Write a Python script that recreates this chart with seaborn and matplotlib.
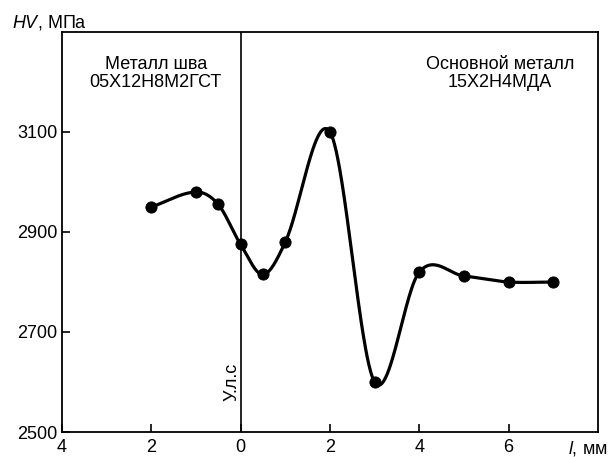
import numpy as np
import pandas as pd
import matplotlib
matplotlib.use("Agg")
import matplotlib.pyplot as plt
import seaborn as sns

# distance from fusion line, mm (weld metal side negative)
dist_mm = [-2.0, -1.0, -0.5, 0.0, 0.5, 1.0, 2.0, 3.0, 4.0, 5.0, 6.0, 7.0]
hv_mpa = [2950, 2980, 2955, 2875, 2815, 2880, 3100, 2600, 2820, 2812, 2800, 2800]
xticks = [-4, -2, 0, 2, 4, 6]
xtick_labels = ["4", "2", "0", "2", "4", "6"]
yticks = [2500, 2700, 2900, 3100]


def smooth_curve(x, y, n=80):
    # cubic Hermite through the points, Catmull-Rom style tangents
    x = np.asarray(x, float)
    y = np.asarray(y, float)
    m = np.gradient(y, x, edge_order=1)
    for i in range(1, len(x) - 1):
        m[i] = (y[i + 1] - y[i - 1]) / (x[i + 1] - x[i - 1])
    xs_all, ys_all = [], []
    for i in range(len(x) - 1):
        h = x[i + 1] - x[i]
        t = np.linspace(0, 1, n)
        h00 = 2 * t**3 - 3 * t**2 + 1
        h10 = t**3 - 2 * t**2 + t
        h01 = -2 * t**3 + 3 * t**2
        h11 = t**3 - t**2
        xs_all.append(x[i] + t * h)
        ys_all.append(h00 * y[i] + h10 * h * m[i] + h01 * y[i + 1] + h11 * h * m[i + 1])
    return np.concatenate(xs_all), np.concatenate(ys_all)


sns.set_style("ticks")
plt.rcParams["font.family"] = ["Liberation Sans", "DejaVu Sans"]
plt.rcParams["mathtext.fontset"] = "custom"
plt.rcParams["mathtext.it"] = "Liberation Sans:italic"
plt.rcParams["mathtext.rm"] = "Liberation Sans"
plt.rcParams["text.color"] = "black"

fig = plt.figure(figsize=(6.1, 4.57), dpi=100)
ax = fig.add_axes([0.1016, 0.0547, 0.8787, 0.8753])

cx, cy = smooth_curve(dist_mm, hv_mpa)
curve = pd.DataFrame({"x": cx, "y": cy})
pts = pd.DataFrame({"x": dist_mm, "y": hv_mpa})

sns.lineplot(data=curve, x="x", y="y", ax=ax, color="black", linewidth=2.3,
             sort=False, estimator=None)
sns.scatterplot(data=pts, x="x", y="y", ax=ax, color="black", s=65,
                edgecolor="black", zorder=3)

ax.axvline(0, color="black", linewidth=1.2)

ax.set_xlim(-4, 8)
ax.set_ylim(2500, 3300)
ax.set_xticks(xticks)
ax.set_xticklabels(xtick_labels)
ax.set_yticks(yticks)
ax.tick_params(direction="in", length=6, width=1.2, labelsize=13,
               colors="black", labelcolor="black")
ax.tick_params(axis="x", pad=5)
ax.set_xlabel("")
ax.set_ylabel("")
for s in ax.spines.values():
    s.set_linewidth(1.3)
    s.set_color("black")

ax.text(-1.9, 3217, "Металл шва\n05Х12Н8М2ГСТ", ha="center", va="center",
        fontsize=13, linespacing=1.1)
ax.text(5.8, 3217, "Основной металл\n15Х2Н4МДА", ha="center", va="center",
        fontsize=13, linespacing=1.1)
ax.text(-0.2, 2562, "У.л.с", rotation=90, ha="center", va="bottom", fontsize=13)

fig.text(12 / 610, 1 - 22 / 457, "$HV$, МПа", ha="left", va="center", fontsize=13)
fig.text(1 - 2 / 610, 1 - 448 / 457, "$l$, мм", ha="right", va="center", fontsize=13)

fig.savefig("out.png", dpi=100)
